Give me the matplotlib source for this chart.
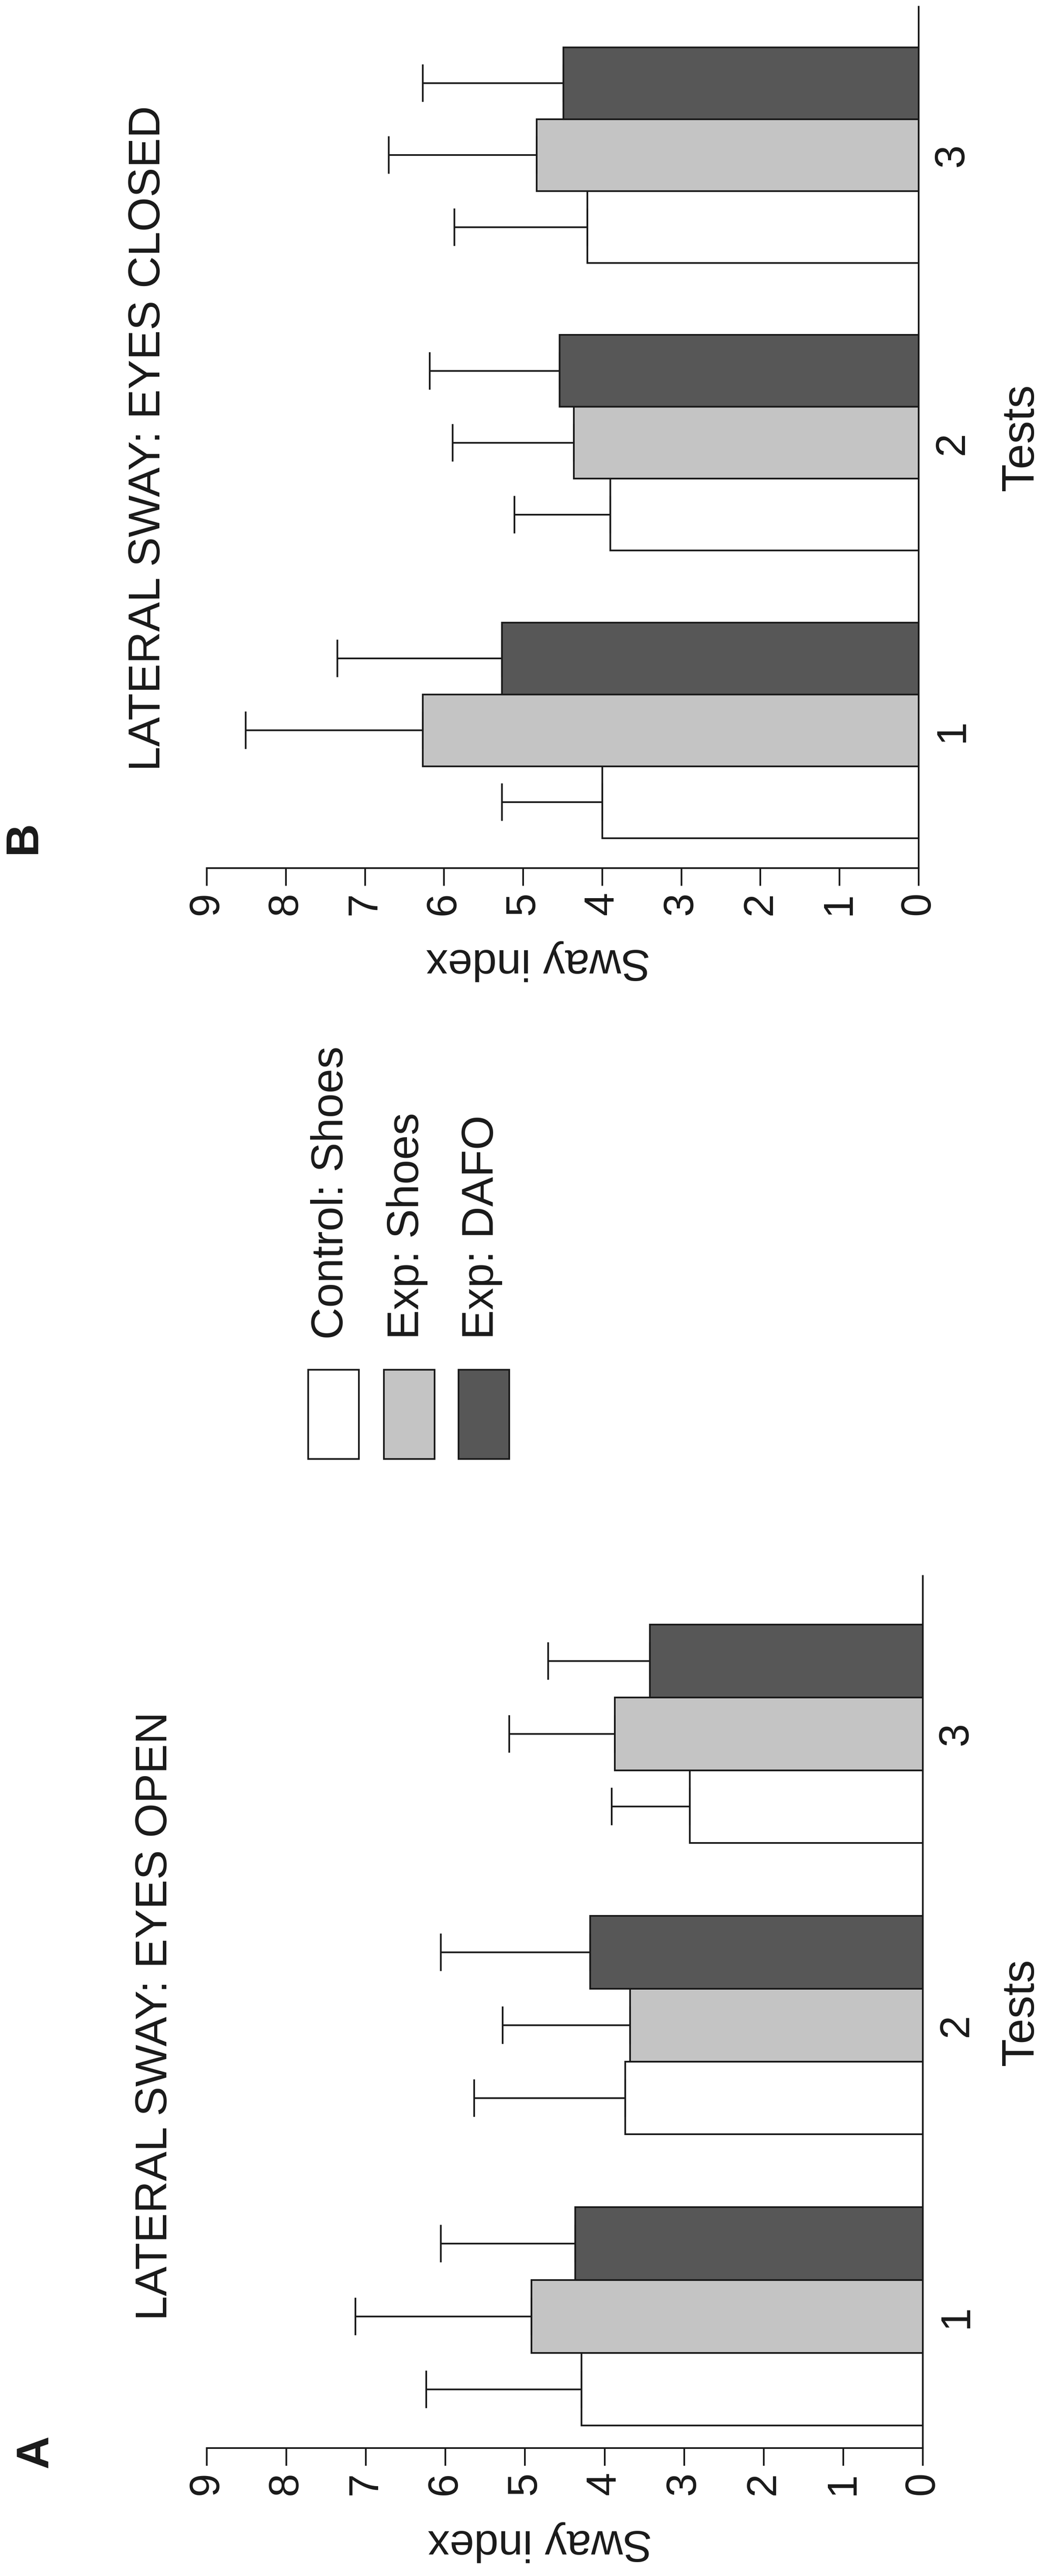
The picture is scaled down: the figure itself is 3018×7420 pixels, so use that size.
import matplotlib.pyplot as plt
from matplotlib.patches import Rectangle
import numpy as np

plt.rcParams['font.family'] = ['Liberation Sans', 'DejaVu Sans']

# Lateral sway index per test, three groups (page is printed rotated 90 deg)
tests = ["1", "2", "3"]
groups = ["Control: Shoes", "Exp: Shoes", "Exp: DAFO"]
colors = ["white", "#c4c4c4", "#575757"]
sway_ticks = [0, 1, 2, 3, 4, 5, 6, 7, 8, 9]

# A: eyes open
open_ctrl = [4.29, 3.74, 2.93]
open_ctrl_sd = [1.95, 1.90, 0.98]
open_shoes = [4.92, 3.68, 3.87]
open_shoes_sd = [2.21, 1.60, 1.33]
open_dafo = [4.37, 4.18, 3.43]
open_dafo_sd = [1.69, 1.88, 1.28]

# B: eyes closed
closed_ctrl = [4.00, 3.90, 4.19]
closed_ctrl_sd = [1.27, 1.21, 1.68]
closed_shoes = [6.27, 4.36, 4.83]
closed_shoes_sd = [2.24, 1.53, 1.87]
closed_dafo = [5.27, 4.54, 4.49]
closed_dafo_sd = [2.08, 1.64, 1.78]

W, H = 3018, 7421
fig = plt.figure(figsize=(W / 100, H / 100), dpi=100)


def fx(px):
    return px / W


def fy(py):
    return 1 - py / H


LW = 3.5


def panel(ax, means, sds, ylim):
    ind = np.arange(1, 4)
    width = 0.25
    for k in range(3):
        ax.barh(ind + (k - 1) * width, means[k], width, color=colors[k],
                edgecolor='#1a1a1a', linewidth=LW,
                xerr=[np.zeros(3), sds[k]],
                error_kw=dict(ecolor='#1a1a1a', elinewidth=LW, capsize=39, capthick=LW))
    ax.set_xlim(9, 0)
    ax.set_ylim(*ylim)
    for s in ['top', 'left']:
        ax.spines[s].set_visible(False)
    for s in ['bottom', 'right']:
        ax.spines[s].set_linewidth(LW)
        ax.spines[s].set_color('#1a1a1a')
    ax.set_xticks(sway_ticks)
    ax.set_xticklabels([str(t) for t in sway_ticks], rotation=90, fontsize=87, color='#1a1a1a')
    ax.tick_params(axis='x', direction='out', length=37, width=LW, pad=12, color='#1a1a1a')
    ax.yaxis.tick_right()
    ax.set_yticks(ind)
    ax.set_yticklabels(tests, rotation=90, va='center', fontsize=87, color='#1a1a1a')
    ax.tick_params(axis='y', length=0, pad=30)
    ax.set_xlabel('Sway index', rotation=180, fontsize=91, color='#1a1a1a', va='center')
    ax.xaxis.set_label_coords(0.4656, -0.1075)
    ax.yaxis.set_label_position('right')
    ax.set_ylabel('Tests', rotation=90, fontsize=95, color='#1a1a1a',
                  va='baseline', ha='center', rotation_mode='anchor')


# panel A (bottom of page)
axA = fig.add_axes([fx(595), fy(7052), fx(2657) - fx(595), fy(4540) - fy(7052)])
panel(axA, [open_ctrl, open_shoes, open_dafo],
      [open_ctrl_sd, open_shoes_sd, open_dafo_sd], (0.548, 3.542))
axA.yaxis.set_label_coords((2975 - 595) / (2657 - 595), 0.5)

# panel B (top of page)
axB = fig.add_axes([fx(595), fy(2501), fx(2645) - fx(595), fy(20) - fy(2501)])
panel(axB, [closed_ctrl, closed_shoes, closed_dafo],
      [closed_ctrl_sd, closed_shoes_sd, closed_dafo_sd], (0.521, 3.516))
axB.yaxis.set_label_coords((2975 - 595) / (2645 - 595), 0.5)

# titles and panel letters
fig.text(fx(480), fy(6684), "LATERAL SWAY: EYES OPEN", rotation=90, rotation_mode='anchor',
         ha='left', va='baseline', fontsize=92, color='#1a1a1a')
fig.text(fx(460), fy(2221), "LATERAL SWAY: EYES CLOSED", rotation=90, rotation_mode='anchor',
         ha='left', va='baseline', fontsize=92, color='#1a1a1a')
fig.text(fx(137), fy(7061), "A", rotation=90, rotation_mode='anchor',
         ha='center', va='baseline', fontsize=95, fontweight='bold', color='#1a1a1a')
fig.text(fx(102), fy(2412), "B", rotation=90, rotation_mode='anchor',
         ha='center', va='baseline', fontsize=95, fontweight='bold', color='#1a1a1a')

# legend, drawn by hand so that it reads rotated like the rest of the page
box_x = [887, 1105, 1320]
text_x = [987, 1205, 1420]
for k in range(3):
    fig.add_artist(Rectangle((fx(box_x[k]), fy(4203)), 146 / W, 257 / H,
                             transform=fig.transFigure, facecolor=colors[k],
                             edgecolor='#1a1a1a', linewidth=LW))
    fig.text(fx(text_x[k]), fy(3858), groups[k], rotation=90, rotation_mode='anchor',
             ha='left', va='baseline', fontsize=92, color='#1a1a1a')

plt.savefig("out.png", dpi=100)
